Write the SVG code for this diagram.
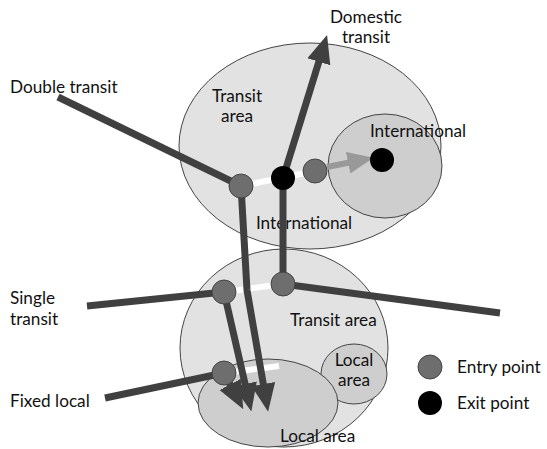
<svg xmlns="http://www.w3.org/2000/svg" width="547" height="449" viewBox="0 0 547 449">
<style>
.area{fill:#e2e2e2;stroke:#444;stroke-width:1}
.sub{fill:#cecece;stroke:#444;stroke-width:1}
.line{fill:none;stroke:#404040;stroke-width:7}
.white{fill:none;stroke:#fff;stroke-width:6}
.entry{fill:#6e6e6e;stroke:#444;stroke-width:1}
.exit{fill:#000}
text{font-family:Lato,"Liberation Sans",sans-serif;font-size:17.2px;fill:#111}
</style>
<defs>
<marker id="ah" markerUnits="userSpaceOnUse" markerWidth="28" markerHeight="28" viewBox="0 0 28 28" refX="4" refY="14" orient="auto">
<path d="M0,2 L28,14 L0,26 Z" fill="#404040"/>
</marker>
<marker id="ahg" markerUnits="userSpaceOnUse" markerWidth="26" markerHeight="24" viewBox="0 0 26 24" refX="4" refY="12" orient="auto">
<path d="M0,1 L26,12 L0,23 Z" fill="#999"/>
</marker>
</defs>
<g id="transit-top">
<ellipse class="area" cx="310" cy="146" rx="131" ry="103"/>
<text x="237" y="102" text-anchor="middle">Transit</text>
<text x="237" y="122" text-anchor="middle">area</text>
<text x="304" y="229" text-anchor="middle">International</text>
</g>
<g id="international-inner">
<ellipse class="sub" cx="385" cy="166" rx="57" ry="52"/>
<text x="418" y="137" text-anchor="middle">International</text>
</g>
<g id="transit-bottom">
<ellipse class="area" cx="284" cy="348" rx="104" ry="99"/>
<text x="290" y="326">Transit area</text>
</g>
<g id="local-area-small">
<ellipse class="sub" cx="354" cy="374" rx="33" ry="30"/>
<text x="354" y="366" text-anchor="middle">Local</text>
<text x="354" y="386" text-anchor="middle">area</text>
</g>
<g id="local-area">
<ellipse class="sub" cx="268" cy="403" rx="70" ry="44"/>
<text x="280" y="442">Local area</text>
</g>
<g id="connectors">
<path class="white" d="M241,186 L315,171"/>
<path class="white" d="M224,292 L283,284"/>
<path class="white" d="M224,373 L279,366"/>
<path class="line" d="M58,97 L241,186"/>
<path class="line" d="M283,178 L320,58" marker-end="url(#ah)"/>
<path class="line" d="M241,186 L247,290 L264,388" marker-end="url(#ah)"/>
<path class="line" d="M283,178 L283,284"/>
<path class="line" d="M283,284 L500,313"/>
<path class="line" d="M87,306 L224,292"/>
<path class="line" d="M224,292 L246,388" marker-end="url(#ah)"/>
<path class="line" d="M105,398 L224,373"/>
<path class="line" d="M224,373 L232,388" marker-end="url(#ah)"/>
<path d="M327,167 L352,162" fill="none" stroke="#999" stroke-width="6" marker-end="url(#ahg)"/>
</g>
<g id="nodes">
<circle class="entry" cx="241" cy="186" r="12"/>
<circle class="exit" cx="283" cy="178" r="12"/>
<circle class="entry" cx="315" cy="171" r="12"/>
<circle class="exit" cx="382" cy="160" r="12"/>
<circle class="entry" cx="224" cy="292" r="12"/>
<circle class="entry" cx="283" cy="284" r="12"/>
<circle class="entry" cx="224" cy="373" r="12"/>
</g>
<g id="labels">
<text x="366" y="23" text-anchor="middle">Domestic</text>
<text x="366" y="43" text-anchor="middle">transit</text>
<text x="10" y="93">Double transit</text>
<text x="10" y="304">Single</text>
<text x="10" y="325">transit</text>
<text x="10" y="407">Fixed local</text>
</g>
<g id="legend">
<circle class="entry" cx="430" cy="367" r="12"/>
<text x="457" y="373">Entry point</text>
<circle class="exit" cx="430" cy="403" r="12"/>
<text x="457" y="409">Exit point</text>
</g>
</svg>
